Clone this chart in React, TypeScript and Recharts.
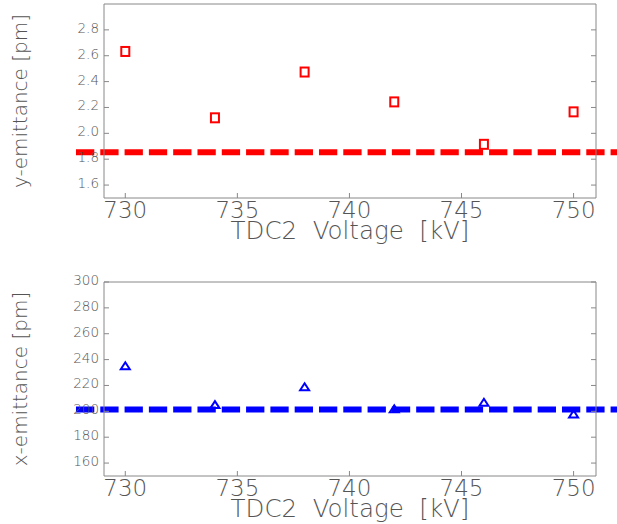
import React from "react";
import { ScatterChart, Scatter, XAxis, YAxis, ReferenceLine, Label } from "recharts";

// TDC2 voltage scan, emittance per setting
const VOLTAGE = [730, 734, 738, 742, 746, 750];
const Y_EMITTANCE = [2.633, 2.12, 2.474, 2.243, 1.915, 2.166];
const X_EMITTANCE = [235.2, 205.2, 219, 202, 207, 198];

// design emittance levels, drawn across the full width
const Y_DESIGN = 1.854;
const X_DESIGN = 201.5;
const DESIGN_SPAN = [727.8, 752.6];

const VOLTAGE_TICKS = [730, 735, 740, 745, 750];
const Y_TICKS = [1.6, 1.8, 2.0, 2.2, 2.4, 2.6, 2.8];
const X_TICKS = [160, 180, 200, 220, 240, 260, 280, 300];

const VOLTAGE_DOMAIN = [729.05, 751];
const Y_DOMAIN = [1.5, 3.0];
const X_DOMAIN = [150, 300];

const FONT = "'DejaVu Sans', sans-serif";
const TEXT = "#555";
const FRAME = "#888";
const TICK = 5;

const LeftTick = ({ x, y, payload, digits }: any) => (
  <g>
    <line x1={x} y1={y} x2={x + TICK} y2={y} stroke={FRAME} />
    <text x={x - 5} y={y - 2} textAnchor="end" dominantBaseline="central"
      fontSize={13.5} fontFamily={FONT} fontWeight={200} fill={TEXT}>
      {payload.value.toFixed(digits)}
    </text>
  </g>
);

const RightTick = ({ x, y }: any) => (
  <line x1={x} y1={y} x2={x - TICK} y2={y} stroke={FRAME} />
);

const TopTick = ({ x, y }: any) => (
  <line x1={x} y1={y} x2={x} y2={y + TICK} stroke={FRAME} />
);

const BottomTick = ({ x, y, payload }: any) => (
  <g>
    <line x1={x} y1={y} x2={x} y2={y - TICK} stroke={FRAME} />
    <text x={x} y={y + 11.5} textAnchor="middle" dominantBaseline="central"
      fontSize={23} fontFamily={FONT} fontWeight={200} fill={TEXT}>
      {payload.value}
    </text>
  </g>
);

const YTitle = ({ viewBox, value }: any) => {
  const cx = 20;
  const cy = viewBox.y + viewBox.height / 2;
  return (
    <text x={cx} y={cy} transform={`rotate(-90 ${cx} ${cy})`} textAnchor="middle"
      dominantBaseline="central" fontSize={20} fontFamily={FONT} fontWeight={200} fill={TEXT}>
      {value}
    </text>
  );
};

const XTitle = ({ viewBox }: any) => (
  <text x={viewBox.x + viewBox.width / 2} y={viewBox.y + 32} textAnchor="middle"
    dominantBaseline="central" fontSize={24.5} fontFamily={FONT} fontWeight={200} fill={TEXT}
    style={{ whiteSpace: "pre" }}>
    {"TDC2  Voltage  [kV]"}
  </text>
);

const Square = ({ cx, cy }: any) => (
  <rect x={cx - 4} y={cy - 4.5} width={8} height={9} fill="none" stroke="#ff0000" strokeWidth={2} />
);

const Triangle = ({ cx, cy }: any) => (
  <path d={`M${cx - 4.5},${cy + 3.5} L${cx + 4.5},${cy + 3.5} L${cx},${cy - 3.5} Z`}
    fill="none" stroke="#0000ff" strokeWidth={2} />
);

interface PanelProps {
  values: number[];
  domain: number[];
  ticks: number[];
  digits: number;
  design: number;
  color: string;
  shape: any;
  title: string;
}

// top margin leaves room for a tick label sitting on the upper frame edge
const Panel = ({ values, domain, ticks, digits, design, color, shape, title }: PanelProps) => {
  const data = VOLTAGE.map((v, i) => ({ v, e: values[i] }));
  return (
    <ScatterChart width={617} height={272} margin={{ top: 13, right: 20, bottom: 0, left: 0 }}>
      <XAxis xAxisId="b" type="number" dataKey="v" domain={VOLTAGE_DOMAIN} ticks={VOLTAGE_TICKS}
        allowDataOverflow interval={0} height={64} tickSize={0} tickMargin={0} tickLine={false}
        axisLine={{ stroke: FRAME }} tick={<BottomTick />}>
        <Label content={<XTitle />} />
      </XAxis>
      <XAxis xAxisId="t" orientation="top" type="number" domain={VOLTAGE_DOMAIN} ticks={VOLTAGE_TICKS}
        allowDataOverflow interval={0} height={1} tickSize={0} tickMargin={0} tickLine={false}
        axisLine={{ stroke: FRAME }} tick={<TopTick />} />
      <YAxis yAxisId="l" type="number" dataKey="e" domain={domain} ticks={ticks}
        allowDataOverflow interval={0} width={104} tickSize={0} tickMargin={0} tickLine={false}
        axisLine={{ stroke: FRAME }} tick={(p: any) => <LeftTick {...p} digits={digits} />}>
        <Label content={<YTitle value={title} />} />
      </YAxis>
      <YAxis yAxisId="r" orientation="right" type="number" domain={domain} ticks={ticks}
        allowDataOverflow interval={0} width={1} tickSize={0} tickMargin={0} tickLine={false}
        axisLine={{ stroke: FRAME }} tick={<RightTick />} />
      <Scatter xAxisId="b" yAxisId="l" data={data} shape={shape} isAnimationActive={false} />
      <ReferenceLine xAxisId="b" yAxisId="l" ifOverflow="visible"
        segment={[{ x: DESIGN_SPAN[0], y: design }, { x: DESIGN_SPAN[1], y: design }]}
        stroke={color} strokeWidth={6} strokeDasharray="18.3 6" />
    </ScatterChart>
  );
};

export default function App() {
  return (
    <div style={{ position: "absolute", left: 0, top: 0, width: 617, height: 524, overflow: "hidden", background: "#fff" }}>
      <div style={{ position: "absolute", left: 0, top: -10 }}>
        <Panel values={Y_EMITTANCE} domain={Y_DOMAIN} ticks={Y_TICKS} digits={1} design={Y_DESIGN}
          color="#ff0000" shape={<Square />} title="y-emittance  [pm]" />
      </div>
      <div style={{ position: "absolute", left: 0, top: 268 }}>
        <Panel values={X_EMITTANCE} domain={X_DOMAIN} ticks={X_TICKS} digits={0} design={X_DESIGN}
          color="#0000ff" shape={<Triangle />} title="x-emittance  [pm]" />
      </div>
    </div>
  );
}
